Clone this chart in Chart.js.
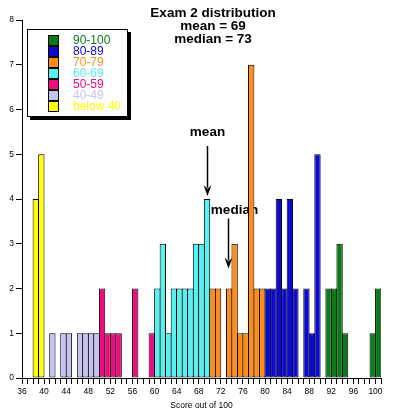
<!DOCTYPE html>
<html>
<head>
<meta charset="utf-8">
<script src="https://cdn.jsdelivr.net/npm/chart.js@4/dist/chart.umd.min.js"></script>
<style>
  html, body { margin: 0; padding: 0; background: #fff; }
  #wrap { width: 394px; height: 418px; }
</style>
</head>
<body>
<div id="wrap"><canvas id="hist" width="394" height="418"></canvas></div>
<script>
/* Exam 2 score histogram, one bar per integer score */
var scores = [38, 39, 41, 43, 44, 46, 47, 48, 49, 50, 51, 52, 53, 56, 59,
  60, 61, 62, 63, 64, 65, 66, 67, 68, 69, 70, 71, 73, 74, 75, 76, 77, 78, 79,
  80, 81, 82, 83, 84, 85, 87, 88, 89, 91, 92, 93, 94, 99, 100];
var counts = [4, 5, 1, 1, 1, 1, 1, 1, 1, 2, 1, 1, 1, 2, 1,
  2, 3, 1, 2, 2, 2, 2, 3, 3, 4, 2, 2, 2, 3, 1, 1, 7, 2, 2,
  2, 2, 4, 2, 4, 2, 2, 1, 5, 2, 2, 3, 1, 1, 2];

var rangeLabels = ['90-100', '80-89', '70-79', '60-69', '50-59', '40-49', 'below 40'];
var rangeLows = [90, 80, 70, 60, 50, 40, 0];
var rangeColors = ['#0a7a14', '#0a0ad2', '#ff8c14', '#55f2f2', '#f00a80', '#c4c4f4', '#ffff00'];

var xTickLabels = [36, 40, 44, 48, 52, 56, 60, 64, 68, 72, 76, 80, 84, 88, 92, 96, 100];
var titleLines = ['Exam 2 distribution', 'mean = 69', 'median = 73'];
var meanScore = 69, medianScore = 73;

var FONT = "'Liberation Sans', Arial, Helvetica, sans-serif";

function colorFor(s) {
  for (var i = 0; i < rangeLows.length; i++) {
    if (s >= rangeLows[i]) return rangeColors[i];
  }
  return rangeColors[rangeColors.length - 1];
}

var points = scores.map(function (s, i) { return { x: s + 0.5, y: counts[i] }; });
var barColors = scores.map(colorFor);

function arrow(ctx, x, y0, y1) {
  ctx.beginPath();
  ctx.moveTo(x, y0);
  ctx.lineTo(x, y1 - 8);
  ctx.stroke();
  ctx.beginPath();
  ctx.moveTo(x - 4, y1 - 11);
  ctx.lineTo(x, y1 - 7);
  ctx.lineTo(x + 4, y1 - 11);
  ctx.lineTo(x, y1);
  ctx.closePath();
  ctx.fill();
}

/* title, legend box and mean/median markers */
var decor = {
  id: 'decor',
  beforeDatasetsDraw: function (chart) {
    var ctx = chart.ctx, xs = chart.scales.x, ys = chart.scales.y;
    ctx.save();
    ctx.fillStyle = '#000';
    ctx.strokeStyle = '#000';
    ctx.lineWidth = 1.5;
    ctx.font = 'bold 13.5px ' + FONT;
    ctx.textAlign = 'center';
    ctx.textBaseline = 'alphabetic';

    var mx = Math.round(xs.getPixelForValue(meanScore + 0.5)) + 0.5;
    var mTip = ys.getPixelForValue(4) - 3;
    arrow(ctx, mx, mTip - 50, mTip);
    ctx.fillText('mean', mx, mTip - 60);

    var dx = Math.round(xs.getPixelForValue(medianScore + 0.5)) - 0.5;
    var dTip = ys.getPixelForValue(2) - 20;
    arrow(ctx, dx, dTip - 50, dTip);
    ctx.fillText('median', dx + 6, dTip - 55);
    ctx.restore();
  },
  afterDraw: function (chart) {
    var ctx = chart.ctx;
    ctx.save();
    ctx.fillStyle = '#000';
    ctx.font = 'bold 13.5px ' + FONT;
    ctx.textAlign = 'center';
    ctx.textBaseline = 'alphabetic';
    for (var i = 0; i < titleLines.length; i++) {
      ctx.fillText(titleLines[i], 213, 17 + i * 13);
    }

    /* legend with drop shadow */
    ctx.fillStyle = '#000';
    ctx.fillRect(30, 32, 101, 88);
    ctx.fillStyle = '#fff';
    ctx.fillRect(27, 29, 101, 88);
    ctx.strokeStyle = '#000';
    ctx.lineWidth = 1;
    ctx.strokeRect(27.5, 29.5, 100, 87);

    ctx.font = '12px ' + FONT;
    ctx.textAlign = 'left';
    ctx.textBaseline = 'middle';
    for (var j = 0; j < rangeLabels.length; j++) {
      var top = 35.5 + j * 11;
      ctx.fillStyle = rangeColors[j];
      ctx.fillRect(48.5, top, 10, 10);
      ctx.strokeRect(48.5, top, 10, 10);
      ctx.fillText(rangeLabels[j], 73, top + 5.5);
    }
    ctx.restore();
  }
};

new Chart(document.getElementById('hist'), {
  type: 'bar',
  data: {
    datasets: [{
      data: points,
      backgroundColor: barColors,
      borderColor: '#000',
      borderWidth: 1,
      borderSkipped: false,
      barPercentage: 1.15,
      categoryPercentage: 1
    }]
  },
  options: {
    responsive: false,
    animation: false,
    devicePixelRatio: 1,
    layout: { padding: { left: 0, right: 13, top: 20, bottom: 0 } },
    plugins: { legend: { display: false }, tooltip: { enabled: false } },
    scales: {
      x: {
        type: 'linear', min: 36, max: 101, offset: false,
        ticks: {
          stepSize: 1, autoSkip: false, maxRotation: 0, padding: 3,
          color: '#000', font: { family: FONT, size: 8.5 },
          callback: function (v) { return xTickLabels.indexOf(v) >= 0 ? String(v) : ''; }
        },
        grid: { drawOnChartArea: false, color: '#000', tickLength: 6, offset: false },
        border: { color: '#000', width: 1 },
        title: { display: true, text: 'Score out of 100', color: '#000',
          font: { family: FONT, size: 8.5 }, padding: { top: 7, bottom: 7 } },
        afterFit: function (s) { s.height = 40; }
      },
      y: {
        min: 0, max: 8,
        ticks: { stepSize: 1, padding: 2, color: '#000', font: { family: FONT, size: 8.5 } },
        grid: { drawOnChartArea: false, color: '#000', tickLength: 6 },
        border: { color: '#000', width: 1 },
        afterFit: function (s) { s.width = 22; }
      }
    }
  },
  plugins: [decor]
});
</script>
</body>
</html>
